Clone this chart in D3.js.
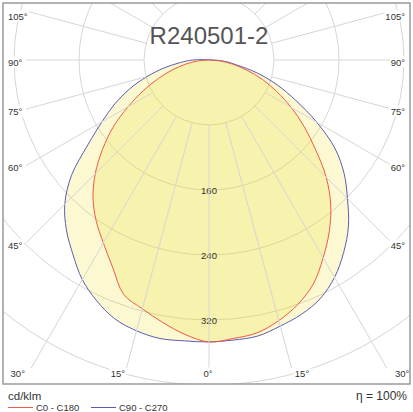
<!DOCTYPE html>
<html>
<head>
<meta charset="utf-8">
<script src="https://cdn.jsdelivr.net/npm/d3@7"></script>
<style>
  body { margin: 0; background: #fff; }
  svg { display: block; }
  text { font-family: "Liberation Sans", Arial, sans-serif; fill: #333; }
</style>
</head>
<body>
<div id="chart"></div>
<script>
// polar angles (deg from nadir) and intensities in cd/klm
var angles = [0, 5, 10, 15, 20, 25, 30, 35, 40, 45, 50, 55, 60, 65, 70, 75, 80, 85, 90];
var c0   = [347, 344, 341, 332, 320, 304, 281, 258, 233, 204, 171, 143, 117, 92, 70, 48, 30, 14, 0];
var c180 = [347, 339, 328, 317, 307, 281, 260, 242, 222, 198, 171, 144, 115, 89, 66, 46, 29, 14, 0];
var c90  = [347, 346, 345, 339, 333, 324, 309, 289, 267, 241, 217, 189, 153, 118, 89, 61, 34, 20, 5];
var c270 = [347, 347, 348, 345, 339, 327, 312, 292, 273, 251, 221, 182, 152, 128, 104, 79, 56, 35, 20];

var ringValues = [80, 160, 240, 320, 400];
var ringLabels = [160, 240, 320];
var gridAngles = [0, 15, 30, 45, 60, 75, 90, 105, 120, 135, 150, 165];
var sideLabels = [45, 60, 75, 90, 105];
var bottomLabels = [0, 15, 30];

var title = "R240501-2";
var unitLabel = "cd/klm";
var etaLabel = "\u03b7 = 100%";
var legendNames = ["C0 - C180", "C90 - C270"];

var svgWidth = 413, svgHeight = 412;
var frame = { x: 3, y: 3, w: 407, h: 381 };
var cx = 209, cy = 60;
// lines stop short of the frame so the labels sit at their ends
var lineBox = { left: 26, right: 392, top: frame.y, bottom: 368 };

var svg = d3.select("#chart").append("svg")
  .attr("width", svgWidth)
  .attr("height", svgHeight);

svg.append("defs").append("clipPath").attr("id", "frameClip")
  .append("rect")
  .attr("x", frame.x).attr("y", frame.y)
  .attr("width", frame.w).attr("height", frame.h);

var rScale = d3.scaleLinear().domain([0, 400]).range([0, 325]);
var rad = d => d * Math.PI / 180;

var plot = svg.append("g").attr("clip-path", "url(#frameClip)");
var center = plot.append("g").attr("transform", `translate(${cx},${cy})`);

// rings
center.selectAll("circle.ring")
  .data(ringValues)
  .enter()
  .append("circle")
  .attr("class", "ring")
  .attr("r", d => rScale(d))
  .attr("fill", "none")
  .attr("stroke", "#d6d6d6")
  .attr("stroke-width", 1);

// where a ray from the centre leaves the line box
function rayEnd(theta, side) {
  var dx = side * Math.sin(rad(theta)), dy = Math.cos(rad(theta));
  var hits = [];
  if (dx > 1e-9) hits.push({ t: (lineBox.right - cx) / dx, edge: "side" });
  if (dx < -1e-9) hits.push({ t: (lineBox.left - cx) / dx, edge: "side" });
  if (dy > 1e-9) hits.push({ t: (lineBox.bottom - cy) / dy, edge: "bottom" });
  if (dy < -1e-9) hits.push({ t: (lineBox.top - cy) / dy, edge: "top" });
  var h = hits.reduce((a, b) => (b.t < a.t ? b : a));
  return { x: cx + h.t * dx, y: cy + h.t * dy, edge: h.edge };
}

var spokes = [];
gridAngles.forEach(a => {
  [-1, 1].forEach(side => {
    if (a === 0 && side === 1) return;
    spokes.push({ angle: a, side: side, end: rayEnd(a, side) });
  });
});

var r0 = rScale(ringValues[0]);
plot.selectAll("line.spoke")
  .data(spokes)
  .enter()
  .append("line")
  .attr("class", "spoke")
  .attr("x1", d => cx + d.side * r0 * Math.sin(rad(d.angle)))
  .attr("y1", d => cy + r0 * Math.cos(rad(d.angle)))
  .attr("x2", d => d.end.x)
  .attr("y2", d => d.end.y)
  .attr("stroke", "#d6d6d6")
  .attr("stroke-width", 1);

// curves: left half is C180 / C270, right half is C0 / C90
function halfPoints(left, right) {
  var pts = [];
  for (var i = angles.length - 1; i >= 0; i--) pts.push([Math.PI + rad(angles[i]), rScale(left[i])]);
  for (var j = 1; j < angles.length; j++) pts.push([Math.PI - rad(angles[j]), rScale(right[j])]);
  return pts;
}

var radial = d3.lineRadial()
  .angle(d => d[0])
  .radius(d => d[1])
  .curve(d3.curveCatmullRomClosed.alpha(0.5));

var series = [
  { name: legendNames[1], pts: halfPoints(c270, c90), color: "#5c5cb4" },
  { name: legendNames[0], pts: halfPoints(c180, c0), color: "#ee5a4c" }
];

center.selectAll("path.fill")
  .data(series)
  .enter()
  .append("path")
  .attr("class", "fill")
  .attr("d", d => radial(d.pts))
  .attr("fill", "rgb(236,222,30)")
  .attr("fill-opacity", 0.2);

center.selectAll("path.curve")
  .data(series)
  .enter()
  .append("path")
  .attr("class", "curve")
  .attr("d", d => radial(d.pts))
  .attr("fill", "none")
  .attr("stroke", d => d.color)
  .attr("stroke-width", 1);

// ring value labels on the 0 deg spoke
center.selectAll("text.ringLabel")
  .data(ringLabels)
  .enter()
  .append("text")
  .attr("class", "ringLabel")
  .attr("x", 0)
  .attr("y", d => rScale(d))
  .attr("text-anchor", "middle")
  .attr("dominant-baseline", "central")
  .attr("font-size", "9.5px")
  .text(d => d);

// angle labels
var labelGroup = svg.append("g");
function addLabel(x, y, anchor, txt) {
  var g = labelGroup.append("g");
  var bg = g.append("rect").attr("fill", "#fff");
  var t = g.append("text")
    .attr("x", x).attr("y", y)
    .attr("text-anchor", anchor)
    .attr("dominant-baseline", "central")
    .attr("font-size", "9.5px")
    .text(txt);
  var b = t.node().getBBox();
  bg.attr("x", b.x - 1).attr("y", b.y).attr("width", b.width + 2).attr("height", b.height);
}

sideLabels.forEach(a => {
  var e = rayEnd(a, -1);
  var y = Math.max(16, e.y + 2);
  addLabel(8, y, "start", a + "\u00b0");
  addLabel(405, y, "end", a + "\u00b0");
});

bottomLabels.forEach(a => {
  var yb = frame.y + frame.h;
  var off = (yb - cy) * Math.tan(rad(a));
  if (a === 0) {
    addLabel(cx - 1, 373, "middle", a + "\u00b0");
  } else {
    addLabel(cx - off + 3, 373, "end", a + "\u00b0");
    addLabel(cx + off - 1, 373, "start", a + "\u00b0");
  }
});

// title
svg.append("text")
  .attr("x", cx)
  .attr("y", 44)
  .attr("text-anchor", "middle")
  .attr("font-family", "Roboto, sans-serif")
  .attr("font-weight", 300)
  .attr("font-size", "24px")
  .style("fill", "#555")
  .text(title);

// frame
svg.append("rect")
  .attr("x", frame.x).attr("y", frame.y)
  .attr("width", frame.w).attr("height", frame.h)
  .attr("fill", "none")
  .attr("stroke", "#9a9a9a")
  .attr("stroke-width", 1.5);

// footer
svg.append("text")
  .attr("x", 8).attr("y", 400)
  .attr("font-size", "11.5px")
  .text(unitLabel);

svg.append("text")
  .attr("x", 407).attr("y", 400)
  .attr("text-anchor", "end")
  .attr("font-size", "12px")
  .text(etaLabel);

var legend = [
  { name: legendNames[0], color: "#ee5a4c", x: 8 },
  { name: legendNames[1], color: "#5c5cb4", x: 91 }
];
var lg = svg.selectAll("g.legend")
  .data(legend)
  .enter()
  .append("g")
  .attr("class", "legend")
  .attr("transform", d => `translate(${d.x},407.5)`);
lg.append("line")
  .attr("x1", 0).attr("x2", 25)
  .attr("stroke", d => d.color)
  .attr("stroke-width", 1);
lg.append("text")
  .attr("x", 28)
  .attr("dominant-baseline", "central")
  .attr("font-size", "9.5px")
  .text(d => d.name);
</script>
</body>
</html>
